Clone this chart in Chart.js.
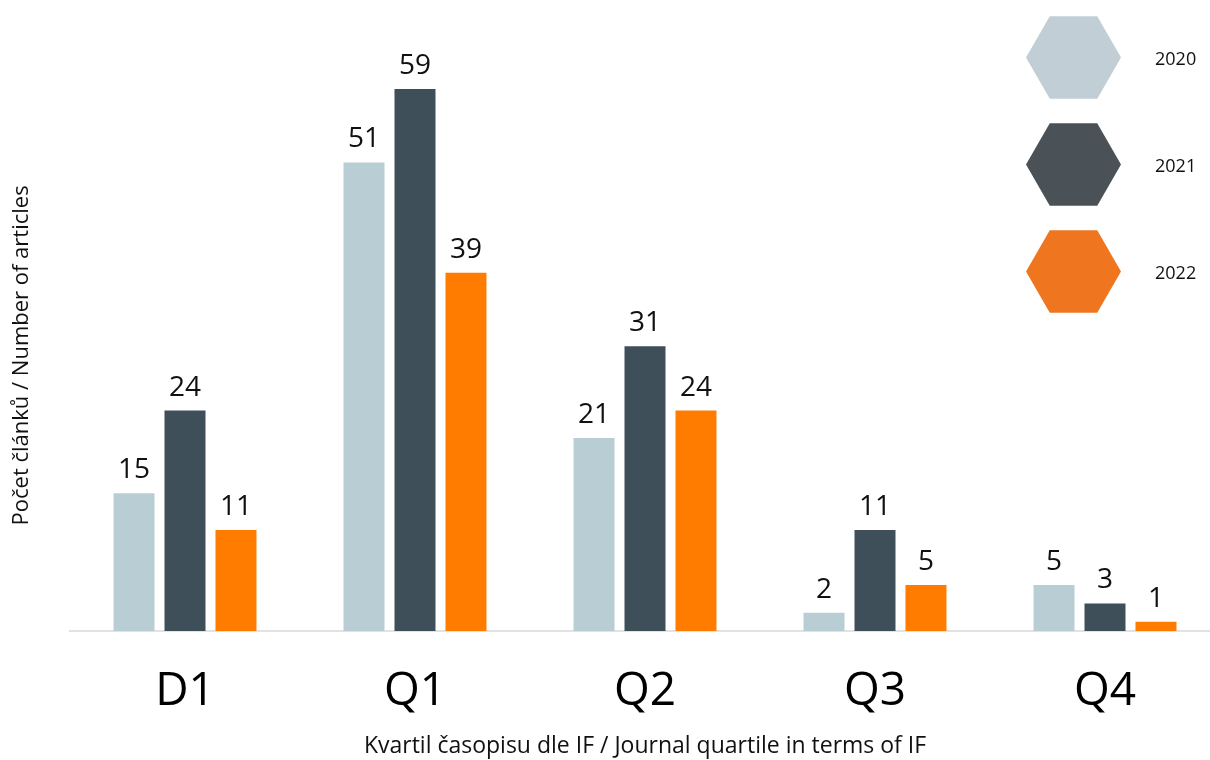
<!DOCTYPE html>
<html>
<head>
<meta charset="utf-8">
<script src="https://cdn.jsdelivr.net/npm/chart.js@4"></script>
<style>
  html, body { margin: 0; padding: 0; background: #fff; overflow: hidden; }
  #wrap { width: 1220px; height: 760px; }
</style>
</head>
<body>
<div id="wrap"><canvas id="chart" width="1220" height="760"></canvas></div>
<script>
const categories = ['D1', 'Q1', 'Q2', 'Q3', 'Q4'];
const years = ['2020', '2021', '2022'];
const values2020 = [15, 51, 21, 2, 5];
const values2021 = [24, 59, 31, 11, 3];
const values2022 = [11, 39, 24, 5, 1];

const barColors = ['#b9ced4', '#3f4f5a', '#ff7c00'];
const hexColors = ['#c1ced6', '#4a5257', '#ef761e'];
const FONT = '"Open Sans", "Noto Sans", sans-serif';

// popisky hodnot nad sloupci
const valueLabels = {
    id: 'valueLabels',
    afterDatasetsDraw(chart) {
        const ctx = chart.ctx;
        ctx.save();
        ctx.font = `28px ${FONT}`;
        ctx.fillStyle = '#111';
        ctx.textAlign = 'center';
        ctx.textBaseline = 'alphabetic';
        chart.data.datasets.forEach((ds, i) => {
            chart.getDatasetMeta(i).data.forEach((bar, j) => {
                ctx.fillText(ds.data[j], bar.x, bar.y - 15);
            });
        });
        ctx.restore();
    }
};

// legenda se sestiuhelniky
const hexLegend = {
    id: 'hexLegend',
    afterDraw(chart) {
        const ctx = chart.ctx;
        const cx = 1073.5, r = 47.5;
        ctx.save();
        years.forEach((year, i) => {
            const cy = 57.5 + i * 107;
            ctx.beginPath();
            for (let k = 0; k < 6; k++) {
                const a = Math.PI / 3 * k;
                const px = cx + r * Math.cos(a);
                const py = cy + r * Math.sin(a);
                if (k === 0) ctx.moveTo(px, py); else ctx.lineTo(px, py);
            }
            ctx.closePath();
            ctx.fillStyle = hexColors[i];
            ctx.fill();
            ctx.fillStyle = '#111';
            ctx.font = `18px ${FONT}`;
            ctx.textAlign = 'left';
            ctx.textBaseline = 'middle';
            ctx.fillText(year, 1155, cy + 2);
        });
        ctx.restore();
    }
};

new Chart(document.getElementById('chart'), {
    type: 'bar',
    data: {
        labels: categories,
        datasets: [
            { label: years[0], data: values2020, backgroundColor: barColors[0] },
            { label: years[1], data: values2021, backgroundColor: barColors[1] },
            { label: years[2], data: values2022, backgroundColor: barColors[2] }
        ]
    },
    options: {
        responsive: false,
        animation: false,
        layout: { padding: { top: 79.8, right: 0, left: 0, bottom: 0 } },
        datasets: {
            bar: { categoryPercentage: 0.665, barPercentage: 0.804 }
        },
        plugins: {
            legend: { display: false },
            tooltip: { enabled: false }
        },
        scales: {
            x: {
                grid: { display: false, drawTicks: false },
                border: { display: true, color: '#e2e2e2', width: 2 },
                ticks: { color: '#000', font: { family: FONT, size: 46 }, padding: 33 },
                title: {
                    display: true,
                    text: 'Kvartil časopisu dle IF / Journal quartile in terms of IF',
                    color: '#111',
                    font: { family: FONT, size: 23 },
                    padding: { top: 0, bottom: 0 }
                },
                afterFit(scale) { scale.height = 129; }
            },
            y: {
                min: 0,
                max: 60,
                grid: { display: false, drawTicks: false },
                border: { display: false },
                ticks: { display: false },
                title: {
                    display: true,
                    text: 'Počet článků / Number of articles',
                    color: '#111',
                    font: { family: FONT, size: 22 },
                    padding: { top: 9, bottom: 0 }
                },
                afterFit(scale) { scale.width = 70; }
            }
        }
    },
    plugins: [valueLabels, hexLegend]
});
</script>
</body>
</html>
